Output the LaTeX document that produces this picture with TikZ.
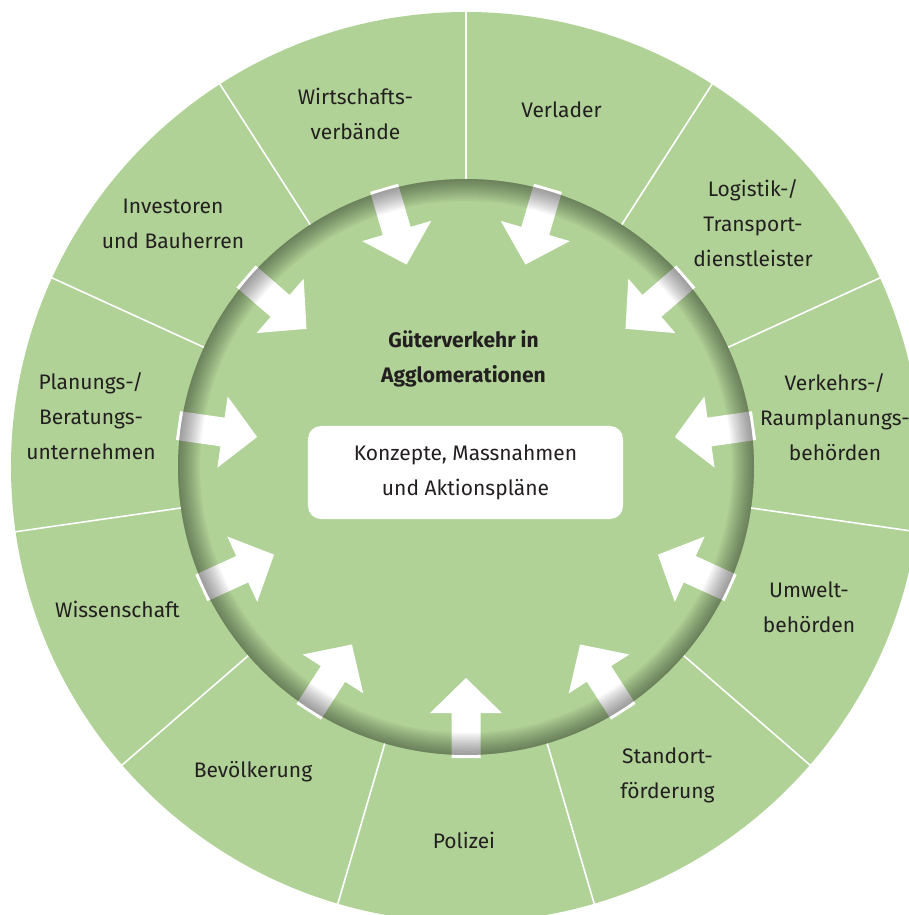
\documentclass[tikz,border=0pt]{standalone}
\usepackage{fontspec}
\setmainfont{Fira Sans}
\usepackage{tikz}
\definecolor{ringgreen}{RGB}{176,210,150}
\definecolor{textgrey}{RGB}{35,31,32}
\def\inarrow(#1){\fill[white, rotate=#1] (291, 14.5) -- (246, 14.5) -- (246, 36) -- (211, 0) -- (246, -36) -- (246, -14.5) -- (291, -14.5) -- cycle;}
\def\shadowring(#1:#2){\fill[black, opacity=#2, even odd rule] (0, 0) circle (288) circle (#1);}
\tikzset{
	sectortext/.style={align=center, text=textgrey, font=\fontsize{10.5}{17.5}\selectfont},
	divider/.style={draw=white, line width=0.8pt}
}

\begin{document}
\begin{tikzpicture}[x=0.5pt, y=0.5pt]
			%%%%% START %%%%%
			
			\useasboundingbox (-466, -448) rectangle (443, 467);
			\clip (-466, -448) rectangle (443, 467);
			
			\fill[ringgreen] (0, 0) circle (455);
			
			\draw[divider] (90:288) -- (90:470);
			\draw[divider] (57.27:288) -- (57.27:470);
			\draw[divider] (24.55:288) -- (24.55:470);
			\draw[divider] (-8.18:288) -- (-8.18:470);
			\draw[divider] (-40.91:288) -- (-40.91:470);
			\draw[divider] (-73.64:288) -- (-73.64:470);
			\draw[divider] (-106.36:288) -- (-106.36:470);
			\draw[divider] (-139.09:288) -- (-139.09:470);
			\draw[divider] (-171.82:288) -- (-171.82:470);
			\draw[divider] (155.45:288) -- (155.45:470);
			\draw[divider] (122.73:288) -- (122.73:470);
			
			\inarrow(106.36);
			\inarrow(73.64);
			\inarrow(40.91);
			\inarrow(8.18);
			\inarrow(-24.55);
			\inarrow(-57.27);
			\inarrow(-90);
			\inarrow(-122.73);
			\inarrow(-155.45);
			\inarrow(171.82);
			\inarrow(139.09);
			
			\shadowring(286:0.04);
			\shadowring(284:0.04);
			\shadowring(282:0.04);
			\shadowring(280:0.04);
			\shadowring(278:0.04);
			\shadowring(276:0.04);
			\shadowring(274:0.04);
			\shadowring(272:0.04);
			\shadowring(270:0.04);
			\shadowring(268:0.04);
			\shadowring(266:0.04);
			
			\node[sectortext, font=\fontsize{10.5}{17.5}\selectfont\bfseries] (topic) at (-2.5, 108) {Güterverkehr in\\Agglomerationen};
			\node[sectortext, fill=white, rounded corners=6.5pt, minimum width=157.5pt, minimum height=46.5pt] (plans) at (-0.5, -5.5) {Konzepte, Massnahmen\\und Aktionspläne};
			
			\node[sectortext] (verbaende) at (-110.5, 353) {Wirtschafts-\\verbände};
			\node[sectortext] (verlader) at (95.5, 357) {Verlader};
			\node[sectortext] (logistik) at (287, 244) {Logistik-/\\Transport-\\dienstleister};
			\node[sectortext] (verkehr) at (369, 50) {Verkehrs-/\\Raumplanungs-\\behörden};
			\node[sectortext] (umwelt) at (343, -140.5) {Umwelt-\\behörden};
			\node[sectortext] (standort) at (201.5, -308.5) {Standort-\\förderung};
			\node[sectortext] (polizei) at (-2, -373) {Polizei};
			\node[sectortext] (bevoelkerung) at (-213, -304.5) {Bevölkerung};
			\node[sectortext] (wissenschaft) at (-348.5, -142.5) {Wissenschaft};
			\node[sectortext] (planung) at (-375, 51) {Planungs-/\\Beratungs-\\unternehmen};
			\node[sectortext] (investoren) at (-293, 243) {Investoren\\und Bauherren};
			
			%%%%% END %%%%%
		\end{tikzpicture}
\end{document}
